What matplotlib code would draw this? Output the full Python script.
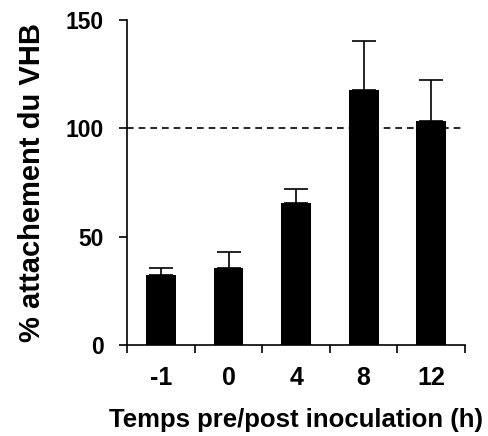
import matplotlib
matplotlib.use("Agg")
import matplotlib.pyplot as plt
import numpy as np

categories = ["-1", "0", "4", "8", "12"]
values = [32.3, 35.4, 65.7, 117.7, 103.4]
errors = [3.1, 7.6, 6.3, 22.6, 18.9]
yticks = [0, 50, 100, 150]

plt.rcParams['font.family'] = ['Liberation Sans', 'DejaVu Sans']
plt.rcParams['font.weight'] = 'bold'

fig = plt.figure(figsize=(4.89, 4.36), dpi=100)
ax = fig.add_axes([0.26, 0.209, 0.691, 0.745])

x = np.arange(len(categories))
ax.bar(x, values, width=0.44, color='black', zorder=2)
ax.errorbar(x, values, yerr=[np.zeros(len(errors)), errors], fmt='none',
            ecolor='black', elinewidth=1.2, capsize=8.5, capthick=1.2, zorder=1)
ax.axhline(100, color='black', linestyle=(0, (4, 3)), linewidth=1.2, zorder=3)

ax.set_xlim(-0.5, len(categories) - 0.5)
ax.set_ylim(0, 150)
ax.set_yticks(yticks)
ax.set_xticks(x)
ax.set_xticklabels(categories)
ax.set_xticks(np.arange(-0.5, len(categories), 1.0), minor=True)
ax.tick_params(axis='x', which='major', length=0, pad=15, labelsize=18)
ax.tick_params(axis='x', which='minor', length=6, width=1.2, direction='out')
ax.tick_params(axis='y', length=6, width=1.2, direction='out', labelsize=16.5, pad=11)
for lab in ax.get_xticklabels() + ax.get_yticklabels():
    lab.set_fontweight('bold')

for s in ['top', 'right']:
    ax.spines[s].set_visible(False)
for s in ['left', 'bottom']:
    ax.spines[s].set_linewidth(1.2)

ax.set_xlabel("Temps pre/post inoculation (h)", fontsize=18.5, fontweight='bold', labelpad=13)
ax.set_ylabel("% attachement du VHB", fontsize=21, fontweight='bold', labelpad=14)

fig.savefig("out.png", dpi=100)
